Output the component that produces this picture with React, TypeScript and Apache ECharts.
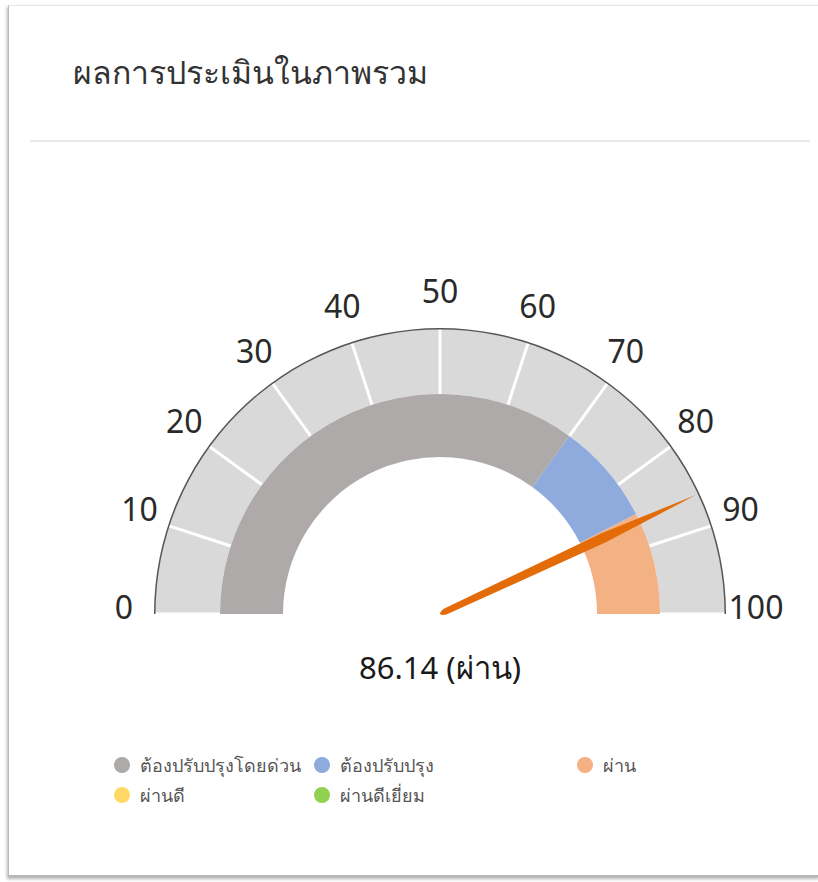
import React, { useEffect, useRef } from 'react';
import * as echarts from 'echarts';

const titleText = 'ผลการประเมินในภาพรวม';
const scoreValue = 86.14;
const scoreStatus = 'ผ่าน';
const axisMin = 0;
const axisMax = 100;
const axisSplits = 10;
const bandStops = [0.7, 0.85, 1.0];
const bandColors = ['#aeaaaa', '#8faadc', '#f4b183'];
const legendNames = ['ต้องปรับปรุงโดยด่วน', 'ต้องปรับปรุง', 'ผ่าน', 'ผ่านดี', 'ผ่านดีเยี่ยม'];
const legendColors = ['#aeaaaa', '#8faadc', '#f4b183', '#ffd966', '#92d050'];

const FONT = '"Noto Sans", "Open Sans", sans-serif';

export default function App() {
  const ref = useRef<HTMLDivElement>(null);
  useEffect(() => {
    document.body.style.overflow = 'hidden';
    if (!ref.current) return;
    const chart = echarts.init(ref.current, null, { renderer: 'svg' });
    const center = [440, 614];
    const common = {
      type: 'gauge',
      center,
      startAngle: 180,
      endAngle: 0,
      min: axisMin,
      max: axisMax,
      splitNumber: axisSplits,
      axisTick: { show: false },
      title: { show: false },
      anchor: { show: false },
    };
    const legendCols = [122, 322, 585];
    const legendRows = [765, 795];
    const legendGraphics: any[] = [];
    legendNames.forEach((name, i) => {
      const x = legendCols[i % 3];
      const y = legendRows[Math.floor(i / 3)];
      legendGraphics.push({
        type: 'circle',
        shape: { cx: x, cy: y, r: 8 },
        style: { fill: legendColors[i] },
      });
      legendGraphics.push({
        type: 'text',
        x: x + 18,
        y,
        style: {
          text: name,
          fill: '#555',
          font: `18px ${FONT}`,
          verticalAlign: 'middle',
        },
      });
    });
    chart.setOption({
      animation: false,
      title: {
        text: titleText,
        left: 68,
        top: 50,
        textStyle: { fontSize: 32, fontWeight: 'normal', color: '#333', fontFamily: FONT },
      },
      graphic: [
        {
          type: 'line',
          shape: { x1: 30, y1: 141, x2: 810, y2: 141 },
          style: { stroke: '#e8e8e8', lineWidth: 2 },
        },
        ...legendGraphics,
      ],
      series: [
        {
          ...common,
          radius: 285,
          axisLine: { lineStyle: { width: 65, color: [[1, '#d9d9d9']] } },
          splitLine: { show: true, length: 65, distance: -65, lineStyle: { color: '#ffffff', width: 3 } },
          axisLabel: {
            show: true,
            distance: -31,
            rotate: 0.0001,
            color: '#2a2a2a',
            fontSize: 32,
            fontFamily: FONT,
            formatter: (v: number) => `{n|${v}}`,
            rich: {
              n: {
                fontSize: 32,
                fontFamily: FONT,
                color: '#2a2a2a',
                padding: [0, 0, 16, 0],
              },
            },
          },
          pointer: { show: false },
          detail: { show: false },
          data: [{ value: scoreValue }],
        },
        {
          ...common,
          radius: 220,
          axisLine: {
            lineStyle: { width: 63, color: bandStops.map((s, i) => [s, bandColors[i]]) },
          },
          splitLine: { show: false },
          axisLabel: { show: false },
          pointer: { show: false },
          detail: { show: false },
          data: [{ value: scoreValue }],
        },
        {
          ...common,
          radius: 286,
          axisLine: { lineStyle: { width: 1.5, color: [[1, '#555555']] } },
          splitLine: { show: false },
          axisLabel: { show: false },
          pointer: { show: false },
          detail: { show: false },
          data: [{ value: scoreValue }],
        },
        {
          ...common,
          radius: 285,
          axisLine: { show: false },
          splitLine: { show: false },
          axisLabel: { show: false },
          pointer: {
            show: true,
            icon: 'path://M5 0 L10 36 L8.2 98 Q5 102 1.8 98 L0 36 Z',
            length: 282,
            width: 10,
            offsetCenter: [0, 0],
            itemStyle: { color: '#e36c09' },
          },
          detail: {
            show: true,
            offsetCenter: [0, 53],
            fontSize: 31,
            fontWeight: 'normal',
            color: '#1a1a1a',
            fontFamily: FONT,
            formatter: (v: number) => `${v.toFixed(2)} (${scoreStatus})`,
          },
          data: [{ value: scoreValue }],
        },
      ],
    } as any);
    return () => chart.dispose();
  }, []);
  return (
    <div style={{ position: 'absolute', left: 0, top: 0, width: 818, height: 882, background: '#fff' }}>
      <div
        style={{
          position: 'absolute',
          left: 8,
          top: 5,
          width: 812,
          height: 872,
          borderTop: '1px solid #e6e6e6',
          borderLeft: '1px solid #bbb',
          borderBottom: '2px solid #b5b5b5',
          boxShadow: '-1px 2px 3px rgba(0,0,0,0.3)',
          background: '#fff',
          boxSizing: 'border-box',
        }}
      />
      <div ref={ref} style={{ position: 'absolute', left: 0, top: 0, width: 818, height: 882 }} />
    </div>
  );
}
